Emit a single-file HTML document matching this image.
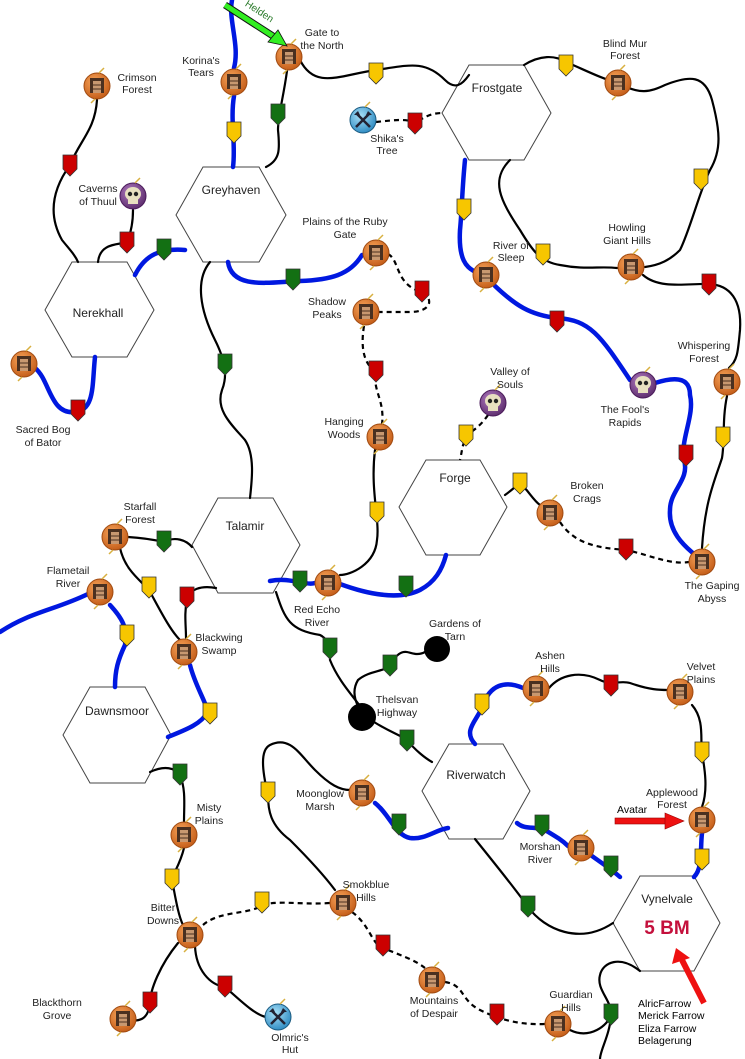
<!DOCTYPE html>
<html><head><meta charset="utf-8"><style>
html,body{margin:0;padding:0;background:#fff;}
svg{display:block;font-family:"Liberation Sans",sans-serif;}
</style></head><body>
<svg width="745" height="1059" viewBox="0 0 745 1059" xmlns="http://www.w3.org/2000/svg">
<defs>
<radialGradient id="og" cx="40%" cy="35%" r="70%"><stop offset="0" stop-color="#f7a45a"/><stop offset="1" stop-color="#c25a16"/></radialGradient>
<radialGradient id="bg" cx="40%" cy="35%" r="70%"><stop offset="0" stop-color="#a8e0f8"/><stop offset="1" stop-color="#2a88c0"/></radialGradient>
<radialGradient id="pg" cx="40%" cy="35%" r="70%"><stop offset="0" stop-color="#b07ac0"/><stop offset="1" stop-color="#5a2a6a"/></radialGradient>
<g id="town"><circle r="13" fill="url(#og)" stroke="#a04a10" stroke-width="1"/><rect x="-7" y="-8" width="14" height="15" fill="#4a3020"/><rect x="-4" y="-5" width="8" height="12" fill="#c89870"/><line x1="-4" y1="-1" x2="4" y2="-1" stroke="#4a3020"/><line x1="-4" y1="3" x2="4" y2="3" stroke="#4a3020"/><path d="M2,-13 L7,-18" stroke="#d8b040" stroke-width="1.5"/><path d="M-2,13 L-6,17" stroke="#d8b040" stroke-width="1.5"/></g>
<g id="skull"><circle r="13" fill="url(#pg)" stroke="#4a1a5a"/><ellipse cx="0" cy="-2" rx="8" ry="7" fill="#e8e0c0"/><rect x="-5" y="3" width="10" height="5" fill="#e8e0c0"/><circle cx="-3" cy="-2" r="2.2" fill="#222"/><circle cx="3" cy="-2" r="2.2" fill="#222"/><path d="M2,-13 L7,-18" stroke="#d8b040" stroke-width="1.5"/></g>
<g id="axe"><circle r="13" fill="url(#bg)" stroke="#1a5a80"/><path d="M-7,-7 L7,7 M7,-7 L-7,7" stroke="#223" stroke-width="2.5"/><path d="M-9,-5 L-5,-9 L-3,-5 Z M9,-5 L5,-9 L3,-5 Z" fill="#223"/><path d="M2,-13 L7,-18" stroke="#d8b040" stroke-width="1.5"/></g>
<polygon id="mk" points="-7,-11 7,-11 7,3 0,10 -7,3" stroke="#333" stroke-width="0.8"/>
</defs>

<g fill="#fff" stroke="#444" stroke-width="1">
<polygon points="203,167 259,167 286,215 259,262 203,262 176,215"/>
<polygon points="469,65 524,65 551,113 524,160 469,160 442,113"/>
<polygon points="72,262 127,262 154,310 127,357 72,357 45,310"/>
<polygon points="426,460 480,460 507,507 480,555 426,555 399,507"/>
<polygon points="218,498 273,498 300,545 273,593 218,593 192,545"/>
<polygon points="90,687 145,687 171,735 145,783 90,783 63,735"/>
<polygon points="449,744 503,744 530,791 503,839 449,839 422,791"/>
<polygon points="640,876 694,876 720,923 694,971 640,971 613,923"/>
</g>

<g fill="none" stroke="#0018e0" stroke-width="4.5" stroke-linecap="round">
<path d="M232,0 C228,20 240,45 234,68"/>
<path d="M234,96 C230,120 236,145 233,167"/>
<path d="M228,262 C232,290 270,282 300,281 C330,280 350,275 362,255"/>
<path d="M135,275 C145,255 160,248 185,250"/>
<path d="M95,357 C92,385 95,410 75,412 C50,415 50,380 35,368"/>
<path d="M465,160 C462,190 462,210 460,230 C458,265 470,268 475,272"/>
<path d="M495,286 C515,305 530,315 557,318 C590,320 600,335 630,380"/>
<path d="M655,383 C680,375 690,380 690,395 C695,415 680,440 684,460 C690,480 670,490 670,510 C668,535 690,550 695,555"/>
<path d="M340,584 C370,595 400,600 420,590 C435,582 442,570 446,555"/>
<path d="M0,632 C30,612 55,610 88,594"/>
<path d="M110,605 C122,618 128,628 125,645 C118,660 115,670 115,687"/>
<path d="M190,665 C195,685 205,700 208,712 C200,725 185,730 168,737"/>
<path d="M523,688 C505,680 490,685 483,705 C478,720 462,730 475,744"/>
<path d="M375,803 C390,815 395,835 410,838 C425,840 435,830 448,828"/>
<path d="M517,823 C525,830 535,826 545,830 C555,836 562,840 568,846"/>
<path d="M592,856 C600,862 610,868 620,877"/>
<path d="M702,833 C700,850 703,868 694,877"/>
<path d="M270,581 C285,578 295,582 300,582 C308,584 312,584 315,583"/>
</g>

<g fill="none" stroke="#000" stroke-width="2.2" stroke-linecap="round">
<path d="M287,71 C283,100 278,115 278,130 C280,150 280,160 266,167"/>
<path d="M300,60 C315,90 340,75 376,70 C410,65 425,60 445,80 C455,90 462,85 469,75"/>
<path d="M524,65 C540,55 555,55 566,62 C585,70 600,78 618,83 C640,95 650,92 665,85 C690,75 705,75 712,100 C720,130 722,150 710,170 C700,190 690,230 680,250 C670,260 660,265 645,267"/>
<path d="M510,160 C490,180 500,200 520,230 C532,250 540,262 560,265 C585,270 600,266 617,268"/>
<path d="M643,275 C660,290 690,283 709,284 C730,285 742,300 740,330 C738,350 738,360 729,368"/>
<path d="M727,396 C722,420 725,440 722,458 C715,480 705,500 702,548"/>
<path d="M97,100 C95,130 80,140 70,165 C52,190 48,215 62,240 C70,250 75,255 78,262"/>
<path d="M133,210 C133,225 130,235 127,242 C120,245 100,242 98,262"/>
<path d="M210,262 C195,280 200,310 215,340 C225,360 228,375 222,390 C215,410 232,425 245,440 C255,455 252,480 250,498"/>
<path d="M375,450 C370,490 380,520 377,540 C375,565 350,575 340,575"/>
<path d="M505,495 C512,490 516,486 520,483 C528,490 533,500 540,505"/>
<path d="M128,537 C145,538 155,540 164,542 C175,536 186,540 192,547"/>
<path d="M120,548 C125,570 140,580 149,590 C160,610 170,630 180,640"/>
<path d="M216,588 C200,585 190,590 187,598 C184,615 186,625 186,638"/>
<path d="M276,592 C285,620 290,630 320,635 C330,640 330,650 330,660 C338,680 352,695 360,706"/>
<path d="M425,652 C410,660 405,640 390,665 C385,672 370,670 358,680 C352,690 355,700 358,706"/>
<path d="M374,722 C390,732 400,735 407,740 C415,750 425,758 432,762"/>
<path d="M150,772 C165,765 175,768 180,775 C186,790 184,805 184,822"/>
<path d="M184,848 C180,865 172,875 172,880 C175,895 178,915 183,925"/>
<path d="M178,943 C160,965 150,990 150,1003 C148,1020 140,1022 125,1020"/>
<path d="M195,946 C196,970 210,985 225,987 C240,1000 255,1015 266,1017"/>
<path d="M335,890 C320,870 300,850 290,840 C270,825 268,810 268,795 C262,770 260,750 270,745 C290,735 300,755 315,770 C330,785 340,790 350,790"/>
<path d="M475,839 C500,870 520,895 528,907 C545,930 580,945 613,923"/>
<path d="M549,688 C560,675 580,670 600,680 C612,686 620,680 630,683 C650,690 660,690 668,690"/>
<path d="M692,705 C705,720 700,740 702,753 C705,770 708,790 702,807"/>
<path d="M570,1030 C590,1040 608,1025 611,1015 C612,1000 596,990 600,975 C603,962 620,955 640,971"/>
<path d="M600,1059 C600,1050 610,1035 611,1015"/>
</g>

<g fill="none" stroke="#000" stroke-width="2.2" stroke-dasharray="5,4">
<path d="M376,122 C395,120 410,118 415,124 C425,115 435,113 442,113"/>
<path d="M388,254 C400,260 395,285 422,292 C435,300 430,312 410,312 C395,312 385,312 379,312"/>
<path d="M364,326 C360,350 365,365 376,372 C372,390 385,400 382,424"/>
<path d="M488,415 C478,430 468,432 466,438 C462,445 462,452 460,460"/>
<path d="M560,522 C575,545 600,548 626,550 C650,555 670,565 689,562"/>
<path d="M203,925 C220,910 250,915 262,905 C280,900 300,905 330,903"/>
<path d="M352,912 C370,925 372,945 383,948 C400,955 415,960 425,968"/>
<path d="M445,982 C465,985 460,1000 480,1010 C500,1020 520,1025 545,1024"/>
</g>

<g>
<use href="#mk" x="376" y="74" fill="#f7c600"/><use href="#mk" x="566" y="66" fill="#f7c600"/>
<use href="#mk" x="415" y="124" fill="#cc0000"/><use href="#mk" x="278" y="115" fill="#137013"/>
<use href="#mk" x="234" y="133" fill="#f7c600"/><use href="#mk" x="70" y="166" fill="#cc0000"/>
<use href="#mk" x="127" y="243" fill="#cc0000"/><use href="#mk" x="164" y="250" fill="#137013"/>
<use href="#mk" x="293" y="280" fill="#137013"/><use href="#mk" x="422" y="292" fill="#cc0000"/>
<use href="#mk" x="464" y="210" fill="#f7c600"/><use href="#mk" x="543" y="255" fill="#f7c600"/>
<use href="#mk" x="701" y="180" fill="#f7c600"/><use href="#mk" x="709" y="285" fill="#cc0000"/>
<use href="#mk" x="557" y="322" fill="#cc0000"/><use href="#mk" x="225" y="365" fill="#137013"/>
<use href="#mk" x="376" y="372" fill="#cc0000"/><use href="#mk" x="78" y="411" fill="#cc0000"/>
<use href="#mk" x="466" y="436" fill="#f7c600"/><use href="#mk" x="377" y="513" fill="#f7c600"/>
<use href="#mk" x="686" y="456" fill="#cc0000"/><use href="#mk" x="723" y="438" fill="#f7c600"/>
<use href="#mk" x="520" y="484" fill="#f7c600"/><use href="#mk" x="626" y="550" fill="#cc0000"/>
<use href="#mk" x="164" y="542" fill="#137013"/><use href="#mk" x="149" y="588" fill="#f7c600"/>
<use href="#mk" x="187" y="598" fill="#cc0000"/><use href="#mk" x="127" y="636" fill="#f7c600"/>
<use href="#mk" x="300" y="582" fill="#137013"/><use href="#mk" x="406" y="587" fill="#137013"/>
<use href="#mk" x="330" y="649" fill="#137013"/><use href="#mk" x="390" y="666" fill="#137013"/>
<use href="#mk" x="210" y="714" fill="#f7c600"/><use href="#mk" x="180" y="775" fill="#137013"/>
<use href="#mk" x="482" y="705" fill="#f7c600"/><use href="#mk" x="611" y="686" fill="#cc0000"/>
<use href="#mk" x="702" y="753" fill="#f7c600"/><use href="#mk" x="407" y="741" fill="#137013"/>
<use href="#mk" x="268" y="793" fill="#f7c600"/><use href="#mk" x="399" y="825" fill="#137013"/>
<use href="#mk" x="542" y="826" fill="#137013"/><use href="#mk" x="611" y="867" fill="#137013"/>
<use href="#mk" x="702" y="860" fill="#f7c600"/><use href="#mk" x="172" y="880" fill="#f7c600"/>
<use href="#mk" x="262" y="903" fill="#f7c600"/><use href="#mk" x="528" y="907" fill="#137013"/>
<use href="#mk" x="383" y="946" fill="#cc0000"/><use href="#mk" x="225" y="987" fill="#cc0000"/>
<use href="#mk" x="150" y="1003" fill="#cc0000"/><use href="#mk" x="497" y="1015" fill="#cc0000"/>
<use href="#mk" x="611" y="1015" fill="#137013"/>
</g>

<use href="#town" x="289" y="57"/><use href="#town" x="234" y="82"/><use href="#town" x="97" y="86"/>
<use href="#town" x="618" y="83"/><use href="#axe" x="363" y="120"/><use href="#skull" x="133" y="196"/>
<use href="#town" x="376" y="253"/><use href="#town" x="486" y="275"/><use href="#town" x="631" y="267"/>
<use href="#town" x="366" y="312"/><use href="#town" x="24" y="364"/><use href="#town" x="727" y="382"/>
<use href="#skull" x="643" y="385"/><use href="#skull" x="493" y="403"/><use href="#town" x="380" y="437"/>
<use href="#town" x="550" y="513"/><use href="#town" x="115" y="537"/><use href="#town" x="702" y="562"/>
<use href="#town" x="100" y="592"/><use href="#town" x="328" y="583"/><use href="#town" x="184" y="652"/>
<circle cx="437" cy="649" r="13" fill="#000"/><circle cx="362" cy="717" r="14" fill="#000"/>
<use href="#town" x="536" y="689"/><use href="#town" x="680" y="692"/><use href="#town" x="362" y="793"/>
<use href="#town" x="702" y="820"/><use href="#town" x="581" y="848"/><use href="#town" x="184" y="835"/>
<use href="#town" x="343" y="903"/><use href="#town" x="190" y="935"/><use href="#town" x="432" y="980"/>
<use href="#town" x="558" y="1024"/><use href="#town" x="123" y="1019"/><use href="#axe" x="278" y="1017"/>

<line x1="225" y1="5" x2="276" y2="38" stroke="#111" stroke-width="7"/>
<line x1="225" y1="5" x2="276" y2="38" stroke="#33ee22" stroke-width="5"/>
<polygon points="287,46 268,42 278,30" fill="#33ee22" stroke="#111" stroke-width="0.8"/>
<text x="240" y="10" font-size="10" fill="#2a7a2a" transform="rotate(33 250 15)">Helden</text>
<rect x="615" y="818" width="52" height="6" fill="#ee1111" stroke="#900" stroke-width="0.6"/>
<polygon points="665,813 684,821 665,829" fill="#ee1111" stroke="#900" stroke-width="0.6"/>
<line x1="704" y1="1003" x2="682" y2="960" stroke="#ee1111" stroke-width="6"/>
<polygon points="676,948 672,964 690,958" fill="#ee1111"/>

<g font-size="10.5" fill="#222" text-anchor="middle">
<text x="137" y="81">Crimson</text><text x="137" y="93">Forest</text>
<text x="201" y="64">Korina's</text><text x="201" y="76">Tears</text>
<text x="322" y="36">Gate to</text><text x="322" y="49">the North</text>
<text x="625" y="47">Blind Mur</text><text x="625" y="59">Forest</text>
<text x="387" y="142">Shika's</text><text x="387" y="154">Tree</text>
<text x="98" y="192">Caverns</text><text x="98" y="205">of Thuul</text>
<text x="345" y="225">Plains of the Ruby</text><text x="345" y="238">Gate</text>
<text x="511" y="249">River of</text><text x="511" y="261">Sleep</text>
<text x="627" y="231">Howling</text><text x="627" y="244">Giant Hills</text>
<text x="327" y="305">Shadow</text><text x="327" y="318">Peaks</text>
<text x="704" y="349">Whispering</text><text x="704" y="362">Forest</text>
<text x="43" y="433">Sacred Bog</text><text x="43" y="446">of Bator</text>
<text x="510" y="375">Valley of</text><text x="510" y="388">Souls</text>
<text x="625" y="413">The Fool's</text><text x="625" y="426">Rapids</text>
<text x="344" y="425">Hanging</text><text x="344" y="438">Woods</text>
<text x="587" y="489">Broken</text><text x="587" y="502">Crags</text>
<text x="140" y="510">Starfall</text><text x="140" y="523">Forest</text>
<text x="68" y="574">Flametail</text><text x="68" y="587">River</text>
<text x="712" y="589">The Gaping</text><text x="712" y="602">Abyss</text>
<text x="317" y="613">Red Echo</text><text x="317" y="626">River</text>
<text x="455" y="627">Gardens of</text><text x="455" y="640">Tarn</text>
<text x="219" y="641">Blackwing</text><text x="219" y="654">Swamp</text>
<text x="550" y="659">Ashen</text><text x="550" y="672">Hills</text>
<text x="701" y="670">Velvet</text><text x="701" y="683">Plains</text>
<text x="397" y="703">Thelsvan</text><text x="397" y="716">Highway</text>
<text x="320" y="797">Moonglow</text><text x="320" y="810">Marsh</text>
<text x="672" y="796">Applewood</text><text x="672" y="808">Forest</text>
<text x="209" y="811">Misty</text><text x="209" y="824">Plains</text>
<text x="540" y="850">Morshan</text><text x="540" y="863">River</text>
<text x="366" y="888">Smokblue</text><text x="366" y="901">Hills</text>
<text x="163" y="911">Bitter</text><text x="163" y="924">Downs</text>
<text x="434" y="1004">Mountains</text><text x="434" y="1017">of Despair</text>
<text x="571" y="998">Guardian</text><text x="571" y="1011">Hills</text>
<text x="57" y="1006">Blackthorn</text><text x="57" y="1019">Grove</text>
<text x="290" y="1041">Olmric's</text><text x="290" y="1053">Hut</text>
</g>
<g font-size="12" fill="#222" text-anchor="middle">
<text x="231" y="194">Greyhaven</text><text x="497" y="92">Frostgate</text>
<text x="98" y="317">Nerekhall</text><text x="455" y="482">Forge</text>
<text x="245" y="530">Talamir</text><text x="117" y="715">Dawnsmoor</text>
<text x="476" y="779">Riverwatch</text><text x="667" y="903">Vynelvale</text>
</g>
<text x="667" y="934" font-size="19" font-weight="bold" fill="#c4103c" text-anchor="middle">5 BM</text>
<text x="617" y="813" font-size="10.5" fill="#000">Avatar</text>
<g font-size="10.5" fill="#000">
<text x="638" y="1007">AlricFarrow</text><text x="638" y="1019">Merick Farrow</text>
<text x="638" y="1032">Eliza Farrow</text><text x="638" y="1044">Belagerung</text>
</g>
</svg>
</body></html>
